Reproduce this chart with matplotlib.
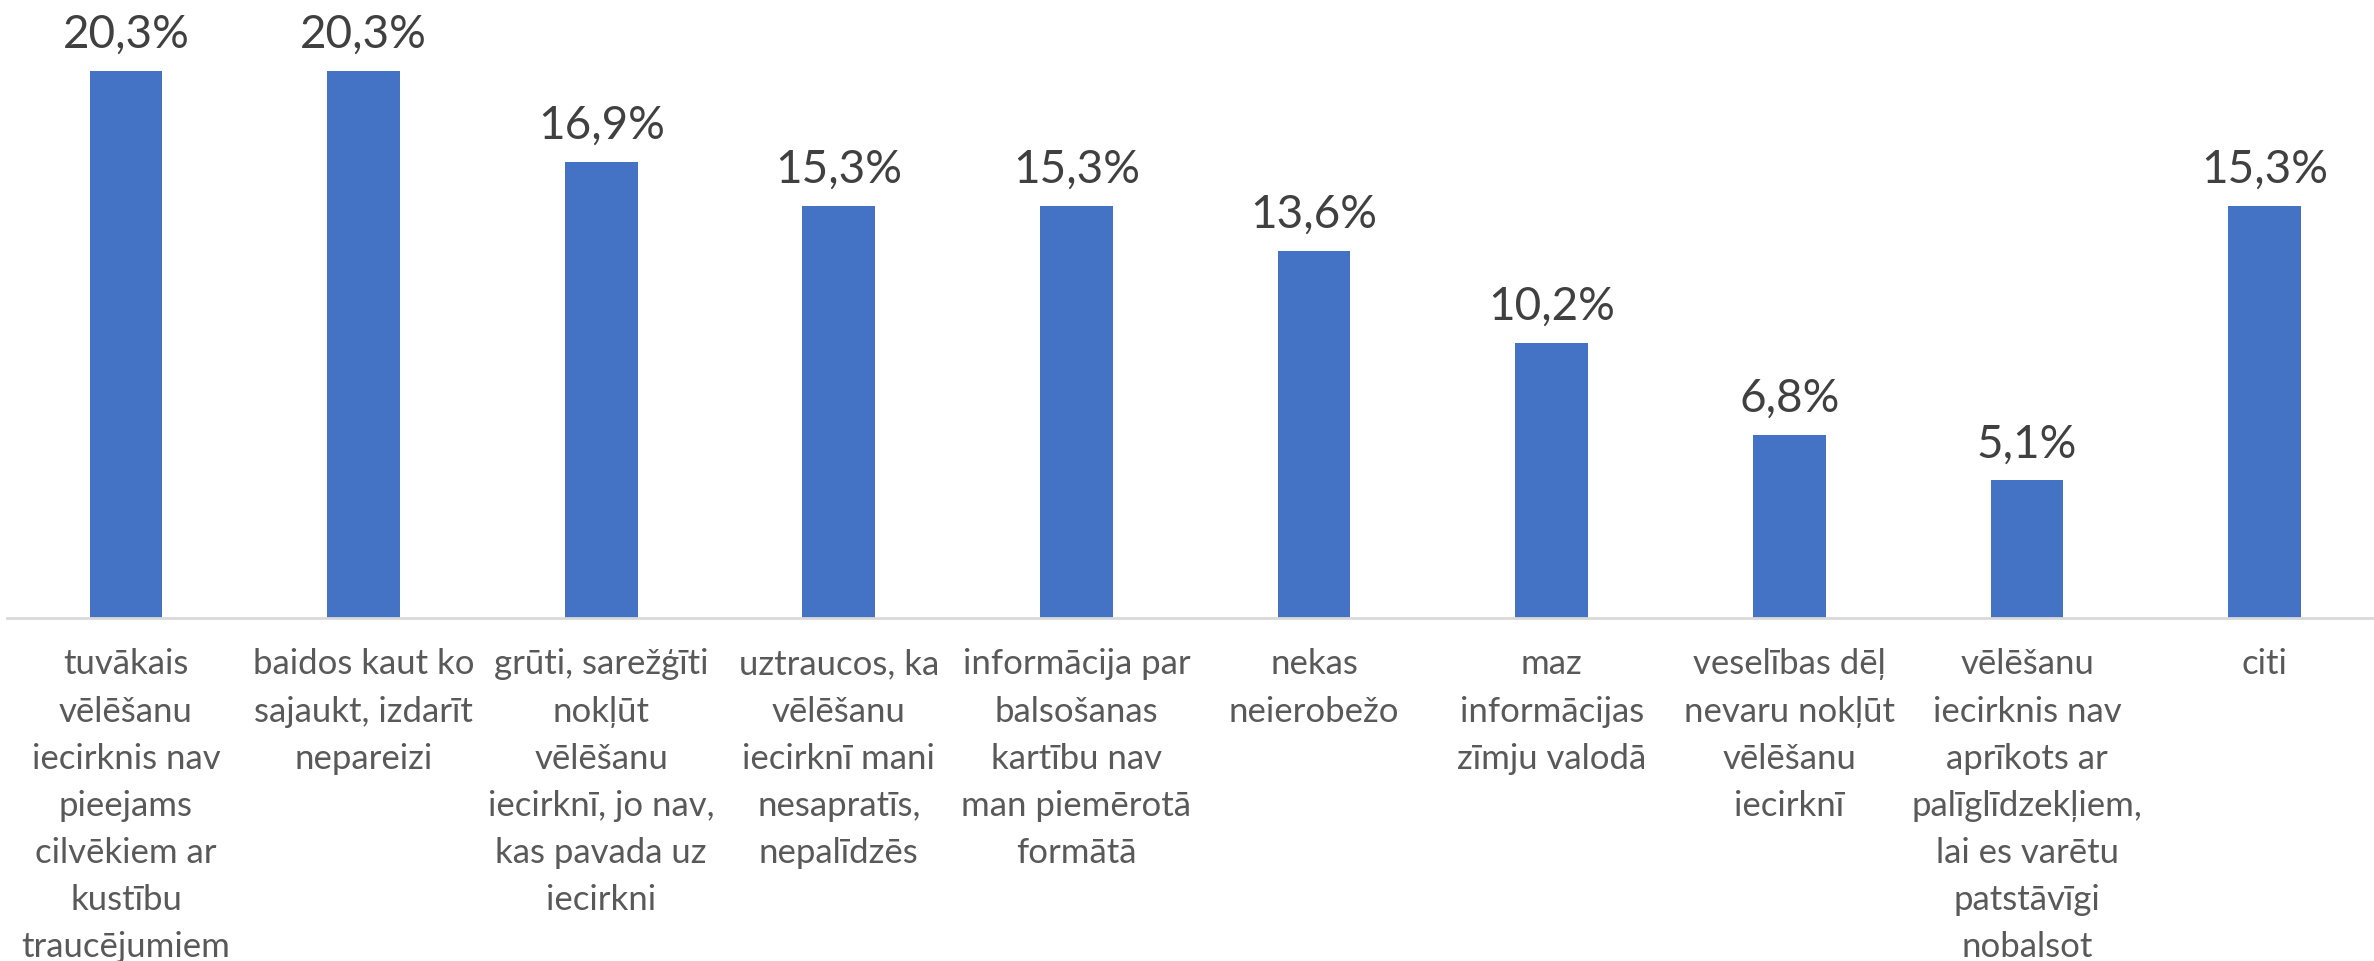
import matplotlib
matplotlib.use("Agg")
import matplotlib.pyplot as plt

# dati
categories = [
    "tuvākais\nvēlēšanu\niecirknis nav\npieejams\ncilvēkiem ar\nkustību\ntraucējumiem",
    "baidos kaut ko\nsajaukt, izdarīt\nnepareizi",
    "grūti, sarežģīti\nnokļūt\nvēlēšanu\niecirknī, jo nav,\nkas pavada uz\niecirkni",
    "uztraucos, ka\nvēlēšanu\niecirknī mani\nnesapratīs,\nnepalīdzēs",
    "informācija par\nbalsošanas\nkartību nav\nman piemērotā\nformātā",
    "nekas\nneierobežo",
    "maz\ninformācijas\nzīmju valodā",
    "veselības dēļ\nnevaru nokļūt\nvēlēšanu\niecirknī",
    "vēlēšanu\niecirknis nav\naprīkots ar\npalīglīdzekļiem,\nlai es varētu\npatstāvīgi\nnobalsot",
    "citi",
]
values = [20.3, 20.3, 16.9, 15.3, 15.3, 13.6, 10.2, 6.8, 5.1, 15.3]

plt.rcParams['font.family'] = ['Lato', 'DejaVu Sans']

fig = plt.figure(figsize=(23.74, 9.61), dpi=100)
ax = fig.add_axes([0.003, 0.357, 0.997, 0.617])

x = list(range(len(values)))
bars = ax.bar(x, values, width=0.306, color="#4472C4", zorder=2)

for b, v in zip(bars, values):
    ax.annotate(f"{v:.1f}%".replace(".", ","),
                xy=(b.get_x() + b.get_width() / 2, v),
                xytext=(0, 11), textcoords="offset points",
                ha="center", va="bottom", fontsize=33, color="#404040")

ax.set_xlim(-0.5, 9.46)
ax.set_ylim(0, 22)
ax.set_xticks(x)
ax.set_xticklabels(categories, fontsize=25, color="#595959", linespacing=1.58,
                   va="top", ha="center")
ax.tick_params(axis="x", length=0, pad=22)
ax.set_yticks([])
for s in ["top", "left", "right"]:
    ax.spines[s].set_visible(False)
ax.spines["bottom"].set_color("#D9D9D9")
ax.spines["bottom"].set_linewidth(2)

fig.savefig("out.png", dpi=100)
